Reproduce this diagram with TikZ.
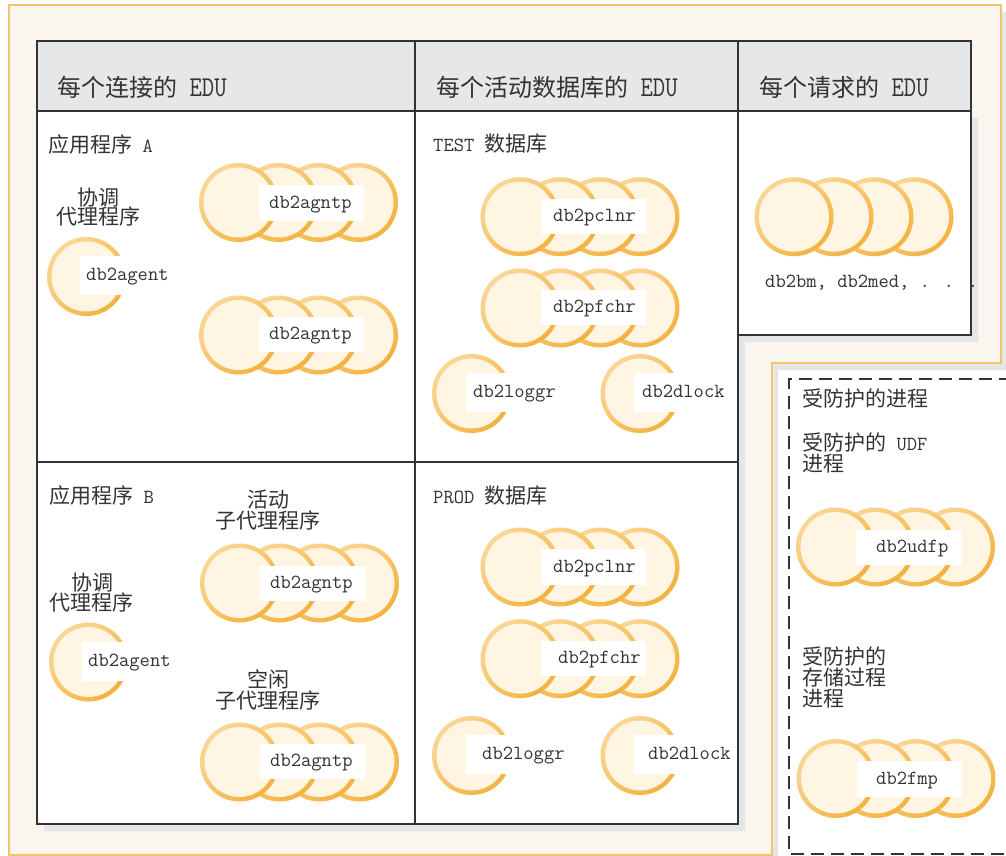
\documentclass[tikz,border=0pt]{standalone}
\usepackage{fontspec}
\newfontfamily\cjk{Noto Sans CJK SC}
\definecolor{beige}{HTML}{FAF6EF}
\definecolor{orangeline}{HTML}{F3C46B}
\definecolor{shadowgray}{HTML}{E5E6E8}
\definecolor{headgray}{HTML}{E6E7E9}
\definecolor{linecol}{HTML}{333333}
\definecolor{txt}{HTML}{333333}
\definecolor{ringlight}{HTML}{FAD797}
\definecolor{ringdark}{HTML}{F3B23F}
\definecolor{cream}{HTML}{FFF5E2}
\newcommand\myring[2]{%
  \shade[top color=ringlight,bottom color=ringdark,shading angle=45] (#1,#2) circle[radius=39.5];
  \fill[cream] (#1,#2) circle[radius=35];}
\newcommand\mygrp[2]{\foreach \i in {3,2,1,0}{\myring{#1+40*\i}{#2}}}
\newcommand\lat[1]{{\ttfamily\fontsize{20}{20}\selectfont #1}}
\newcommand\hlat[1]{{\ttfamily\fontsize{24}{24}\selectfont\ \scalebox{1}[1.2]{#1}}}
\tikzset{
  lbl/.style={font=\ttfamily\fontsize{20}{20}\selectfont, text=txt, inner sep=0pt, anchor=west, text height=14pt, text depth=4pt},
  zhs/.style={font=\cjk\fontsize{21}{21}\selectfont, text=txt, inner sep=0pt, anchor=west, text height=18.5pt, text depth=2.5pt},
  zhc/.style={zhs, anchor=center},
  hdr/.style={font=\cjk\fontsize{24}{24}\selectfont, text=txt, inner sep=0pt, anchor=west, text height=21pt, text depth=3pt},
  frame/.style={draw=linecol, line width=2pt},
  box/.style={fill=white},
}
\begin{document}
\begin{tikzpicture}[x=1pt,y=-1pt]
\useasboundingbox (0,0) rectangle (1006,856);
% background L with shadow
\fill[shadowgray] (15,12) -- (1008,12) -- (1008,370) -- (778,370) -- (778,862) -- (15,862) -- cycle;
\filldraw[fill=beige, draw=orangeline, line width=1.5pt] (9,5) -- (1001,5) -- (1001,363) -- (772,363) -- (772,855) -- (9,855) -- cycle;
% table shadow
\fill[shadowgray] (44,118) -- (978,118) -- (978,342) -- (745,342) -- (745,831) -- (44,831) -- cycle;
% table
\fill[white] (37,111) -- (971,111) -- (971,335) -- (738,335) -- (738,824) -- (37,824) -- cycle;
\fill[headgray] (37,41) rectangle (971,111);
\draw[frame] (37,41) -- (971,41) -- (971,335) -- (738,335) -- (738,824) -- (37,824) -- cycle;
\draw[frame] (37,111) -- (971,111);
\draw[frame] (415,41) -- (415,824);
\draw[frame] (738,41) -- (738,335);
\draw[frame] (37,462) -- (738,462);
% dashed box
\draw[draw=linecol, line width=2pt, dash pattern=on 13pt off 7pt] (1012,379) -- (789,379) -- (789,854) -- (1012,854);

% headers
\node[hdr] (h1) at (57,88) {每个连接的\hlat{EDU}};
\node[hdr] (h2) at (436,88) {每个活动数据库的\hlat{EDU}};
\node[hdr] (h3) at (759,88) {每个请求的\hlat{EDU}};

% Application A
\node[zhs] (appA) at (48,144) {应用程序\lat{\ A}};
\node[zhc] (coA1) at (98,197) {协调};
\node[zhc] (coA2) at (98,216) {代理程序};
\myring{86.5}{276.5}
\fill[box] (80,256) rectangle (170,295);
\node[lbl] (agA) at (86,275.5) {db2agent};
\mygrp{238.5}{202.5}
\fill[box] (259,185) rectangle (364,221);
\node[lbl] (a1) at (269,203) {db2agntp};
\mygrp{238.5}{335}
\fill[box] (259,317) rectangle (364,352);
\node[lbl] (a2) at (269,334.5) {db2agntp};

% Application B
\node[zhs] (appB) at (49,495) {应用程序\lat{\ B}};
\node[zhc] (acB1) at (268,499) {活动};
\node[zhc] (acB2) at (268,520) {子代理程序};
\node[zhc] (coB1) at (92,582) {协调};
\node[zhc] (coB2) at (91,602) {代理程序};
\myring{88.5}{662}
\fill[box] (82,642) rectangle (171,681);
\node[lbl] (agB) at (88,661.5) {db2agent};
\mygrp{239.5}{583}
\fill[box] (260,566) rectangle (366,601);
\node[lbl] (b1) at (270,583.5) {db2agntp};
\node[zhc] (idB1) at (268,679) {空闲};
\node[zhc] (idB2) at (268,700) {子代理程序};
\mygrp{239.5}{762}
\fill[box] (260,744) rectangle (366,779);
\node[lbl] (b2) at (270,761.5) {db2agntp};

% TEST database
\node[zhs] (test) at (433,143) {\lat{TEST\ }数据库};
\mygrp{520}{216.7}
\fill[box] (541,199) rectangle (646,234);
\node[lbl] (t1) at (553,216.5) {db2pclnr};
\mygrp{520}{308}
\fill[box] (541,290) rectangle (646,325);
\node[lbl] (t2) at (553,307.5) {db2pfchr};
\myring{471.5}{393.5}
\fill[box] (466,373) rectangle (562,412);
\node[lbl] (t3) at (473,392.5) {db2loggr};
\myring{640}{393.5}
\fill[box] (634,373) rectangle (730,412);
\node[lbl] (t4) at (642,392.5) {db2dlock};

% PROD database
\node[zhs] (prod) at (433,495) {\lat{PROD\ }数据库};
\mygrp{520}{567}
\fill[box] (541,549) rectangle (646,585);
\node[lbl] (p1) at (553,567) {db2pclnr};
\mygrp{520}{658.7}
\fill[box] (541,641) rectangle (646,676);
\node[lbl] (p2) at (558,658.5) {db2pfchr};
\myring{471.5}{755.5}
\fill[box] (466,735) rectangle (570,774);
\node[lbl] (p3) at (482,754.5) {db2loggr};
\myring{640}{755.5}
\fill[box] (634,735) rectangle (737,774);
\node[lbl] (p4) at (648,754.5) {db2dlock};

% per request
\mygrp{794}{216.7}
\node[lbl] (r1) at (765,282) {db2bm, db2med, . . .};

% fenced
\node[zhs] (f0) at (802,398) {受防护的进程};
\node[zhs] (f1) at (802,442) {受防护的\lat{\ UDF}};
\node[zhs] (f2) at (802,463) {进程};
\mygrp{835.5}{547}
\fill[box] (856,530) rectangle (962,565);
\node[lbl] (u1) at (876,547.5) {db2udfp};
\node[zhs] (s1) at (802,656) {受防护的};
\node[zhs] (s2) at (802,677) {存储过程};
\node[zhs] (s3) at (802,698) {进程};
\mygrp{836}{778.5}
\fill[box] (857,761) rectangle (962,797);
\node[lbl] (m1) at (876,779) {db2fmp};
\end{tikzpicture}
\end{document}
